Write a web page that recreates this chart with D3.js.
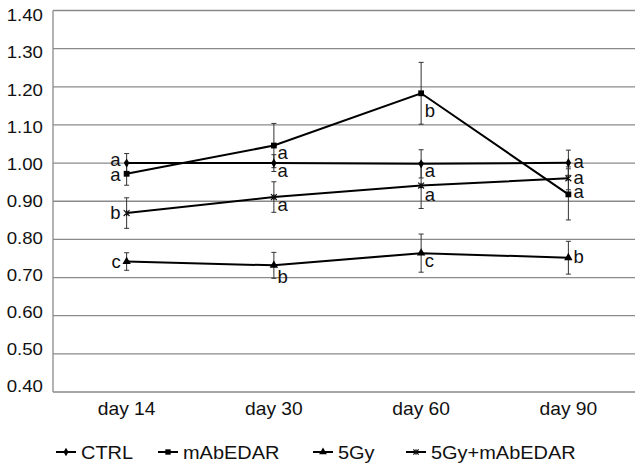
<!DOCTYPE html>
<html><head><meta charset="utf-8">
<script src="https://cdn.jsdelivr.net/npm/d3@7"></script>
<style>
html,body{margin:0;padding:0;background:#fff;}
svg{display:block;font-family:"Liberation Sans",Arial,sans-serif;}
</style></head>
<body>
<svg id="chart" width="642" height="472"></svg>
<script>
const days = ["day 14", "day 30", "day 60", "day 90"];
const yTicks = [0.4, 0.5, 0.6, 0.7, 0.8, 0.9, 1.0, 1.1, 1.2, 1.3, 1.4];
const seriesNames = ["CTRL", "mAbEDAR", "5Gy", "5Gy+mAbEDAR"];
const ctrlValues = [1.000, 1.000, 0.998, 1.001];
const ctrlErrors = [0.025, 0.022, 0.037, 0.033];
const ctrlLetters = ["a", "a", "a", "a"];
const mabValues = [0.972, 1.046, 1.183, 0.918];
const mabErrors = [0.030, 0.058, 0.081, 0.067];
const mabLetters = ["a", "a", "b", "a"];
const gyValues = [0.742, 0.732, 0.764, 0.752];
const gyErrors = [0.023, 0.034, 0.050, 0.043];
const gyLetters = ["c", "b", "c", "b"];
const comboValues = [0.869, 0.911, 0.941, 0.960];
const comboErrors = [0.040, 0.040, 0.060, 0.030];
const comboLetters = ["b", "a", "a", "a"];

const series = [
  {name: seriesNames[0], values: ctrlValues, errors: ctrlErrors, letters: ctrlLetters, marker: "diamond"},
  {name: seriesNames[1], values: mabValues, errors: mabErrors, letters: mabLetters, marker: "square"},
  {name: seriesNames[2], values: gyValues, errors: gyErrors, letters: gyLetters, marker: "triangle"},
  {name: seriesNames[3], values: comboValues, errors: comboErrors, letters: comboLetters, marker: "asterisk"}
];

// layout
const mLeft = 53, mRight = 642, gridRight = 635, mTop = 10.5, mBottom = 392;
const svg = d3.select("#chart");
const x = d3.scaleBand().domain(days).range([mLeft, mRight]);
const y = d3.scaleLinear().domain([0.4, 1.4]).range([mBottom, mTop]);
const yLab = d3.scaleLinear().domain([0.4, 1.4]).range([386, 15.5]);
const cx = d => x(d) + x.bandwidth() / 2;

function widen(sel, f) {
  sel.each(function() {
    const w = this.getComputedTextLength();
    d3.select(this).attr("textLength", w * f).attr("lengthAdjust", "spacingAndGlyphs");
  });
}

// gridlines
svg.append("g").selectAll("line").data(yTicks).join("line")
  .attr("x1", mLeft).attr("x2", gridRight)
  .attr("y1", d => y(d)).attr("y2", d => y(d))
  .attr("stroke", "#8a8a8a").attr("stroke-width", 1.3);
svg.append("line").attr("x1", mLeft).attr("x2", mLeft).attr("y1", mTop).attr("y2", mBottom)
  .attr("stroke", "#8a8a8a").attr("stroke-width", 1.3);

// y tick labels
svg.append("g").selectAll("text").data(yTicks).join("text")
  .attr("x", 43).attr("y", d => yLab(d)).attr("dy", "0.36em")
  .attr("text-anchor", "end").attr("font-size", 16.5).attr("fill", "#111")
  .text(d => d3.format(".2f")(d))
  .call(widen, 1.13);

// x labels
svg.append("g").selectAll("text").data(days).join("text")
  .attr("x", d => cx(d)).attr("y", 415)
  .attr("text-anchor", "middle").attr("font-size", 18.5).attr("fill", "#111")
  .text(d => d)
  .call(widen, 1.04);

function markerPath(type, s) {
  if (type === "diamond") return d3.symbol(d3.symbolDiamond, s * 0.9)();
  if (type === "square") return d3.symbol(d3.symbolSquare, s * 1.2)();
  if (type === "triangle") return d3.symbol(d3.symbolTriangle, s * 1.1)();
  return null;
}
function drawMarker(g, type, px, py, s) {
  if (type === "asterisk") {
    const r = Math.sqrt(s) * 0.55;
    const p = d3.path();
    p.moveTo(px - r, py - r); p.lineTo(px + r, py + r);
    p.moveTo(px - r, py + r); p.lineTo(px + r, py - r);
    p.moveTo(px, py - r); p.lineTo(px, py + r);
    g.append("path").attr("d", p.toString()).attr("stroke", "#111").attr("stroke-width", 1.2).attr("fill", "none");
  } else {
    g.append("path").attr("d", markerPath(type, s)).attr("transform", `translate(${px},${py})`).attr("fill", "#000");
  }
}

const line = d3.line().x((d, i) => cx(days[i])).y(d => y(d));

// error bars
const eg = svg.append("g");
series.forEach(s => {
  s.values.forEach((v, i) => {
    const px = cx(days[i]);
    const y1 = y(v + s.errors[i]), y2 = y(v - s.errors[i]);
    eg.append("line").attr("x1", px).attr("x2", px).attr("y1", y1).attr("y2", y2)
      .attr("stroke", "#333").attr("stroke-width", 1);
    [y1, y2].forEach(yy => eg.append("line").attr("x1", px - 2.5).attr("x2", px + 2.5)
      .attr("y1", yy).attr("y2", yy).attr("stroke", "#333").attr("stroke-width", 1));
  });
});

// lines + markers
series.forEach(s => {
  svg.append("path").attr("d", line(s.values)).attr("fill", "none")
    .attr("stroke", "#000").attr("stroke-width", 2);
});
const mg = svg.append("g");
series.forEach(s => {
  s.values.forEach((v, i) => drawMarker(mg, s.marker, cx(days[i]), y(v), 28));
});

// significance letters
const nudge = {"CTRL|0": -3, "mAbEDAR|0": 1.5, "mAbEDAR|2": 10, "5Gy|1": 4, "5Gy+mAbEDAR|2": 2, "mAbEDAR|3": -1.5};
const lg = svg.append("g").attr("font-size", 18.5).attr("fill", "#111");
series.forEach(s => {
  s.letters.forEach((t, i) => {
    const px = cx(days[i]), py = y(s.values[i]);
    let tx, ty, anchor;
    if (i === 0) { tx = px - 6; ty = py + 6; anchor = "end"; }
    else if (i === 3) { tx = px + 5; ty = py + 5.5; anchor = "start"; }
    else { tx = px + 3.5; ty = py + 13.5; anchor = "start"; }
    ty += nudge[s.name + "|" + i] || 0;
    lg.append("text").attr("x", tx).attr("y", ty).attr("text-anchor", anchor).text(t);
  });
});

// legend
const legendX = [56, 158, 313, 406];
const leg = svg.append("g");
series.forEach((s, k) => {
  const lx = legendX[k], ly = 452;
  leg.append("line").attr("x1", lx).attr("x2", lx + 20).attr("y1", ly).attr("y2", ly)
    .attr("stroke", "#000").attr("stroke-width", 2);
  drawMarker(leg, s.marker, lx + 10, ly, 24);
  leg.append("text").attr("x", lx + 25).attr("y", 459).attr("font-size", 19).attr("fill", "#111")
    .text(s.name).call(widen, 1.05);
});
</script>
</body></html>
